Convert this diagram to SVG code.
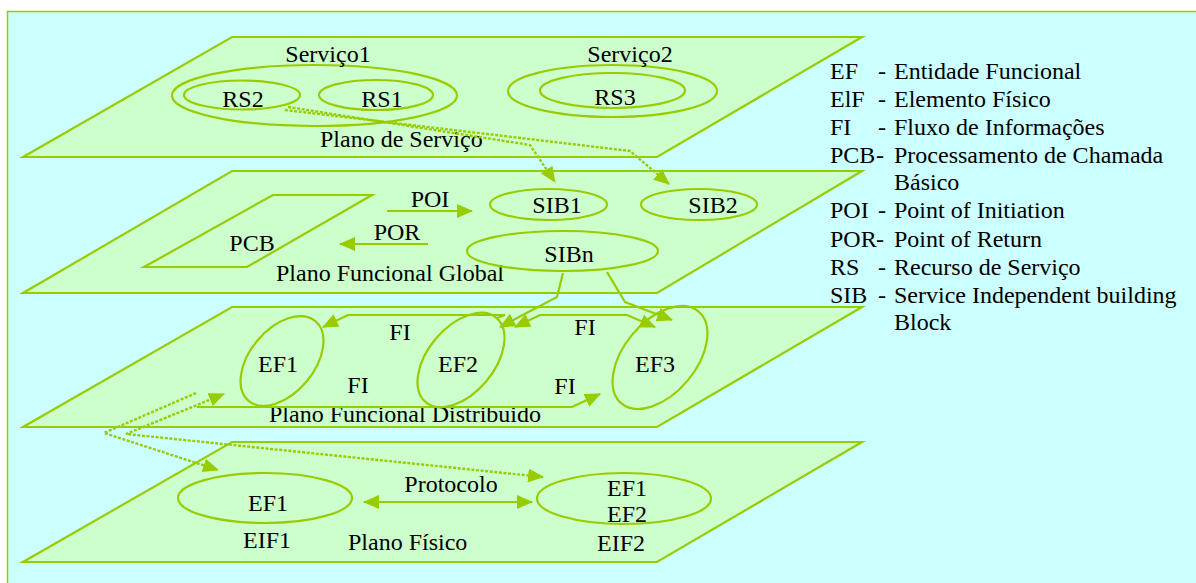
<svg xmlns="http://www.w3.org/2000/svg" width="1196" height="583" viewBox="0 0 1196 583">
<style>
text{font-family:"Liberation Serif","Times New Roman",serif;font-size:24px;fill:#000}
.m{text-anchor:middle}
.pl{fill:#CCFFCC;stroke:#99CC00;stroke-width:2.2}
.el{fill:none;stroke:#99CC00;stroke-width:2.2}
.c{fill:none;stroke:#99CC00;stroke-width:2.2}
.d{fill:none;stroke:#99CC00;stroke-width:2.4;stroke-dasharray:3 1.6}
</style>
<defs>
<marker id="ah" viewBox="0 0 16 14" refX="15" refY="7" markerWidth="16" markerHeight="14" markerUnits="userSpaceOnUse" orient="auto-start-reverse">
<path d="M0,0 L16,7 L0,14 z" fill="#99CC00"/>
</marker>
</defs>
<rect x="0" y="0" width="1196" height="583" fill="#FFFFFF"/>
<rect x="7.5" y="11.5" width="1200" height="600" fill="#CCFFFF" stroke="#99CC00" stroke-width="1.5"/>

<g id="plano-servico">
<polygon class="pl" points="232,37 862,37 657,157 23,157"/>
<text x="320" y="147">Plano de Serviço</text>
</g>
<g id="plano-funcional-global">
<polygon class="pl" points="232,171 862,171 657,293 23,293"/>
<text x="276" y="281">Plano Funcional Global</text>
</g>
<g id="plano-funcional-distribuido">
<polygon class="pl" points="232,307 862,307 657,427 23,427"/>
<text x="269" y="422">Plano Funcional Distribuido</text>
</g>
<g id="plano-fisico">
<polygon class="pl" points="232,442 862,442 657,562 23,562"/>
<text x="348" y="550">Plano Físico</text>
</g>

<g id="servico1">
<ellipse class="el" cx="314.5" cy="95.5" rx="142.5" ry="30.5"/>
<text class="m" x="328" y="62">Serviço1</text>
</g>
<g id="rs2">
<ellipse class="el" cx="242" cy="95" rx="58" ry="14.5"/>
<text class="m" x="243" y="107">RS2</text>
</g>
<g id="rs1">
<ellipse class="el" cx="376" cy="95" rx="57" ry="15"/>
<text class="m" x="382" y="107">RS1</text>
</g>
<g id="servico2">
<ellipse class="el" cx="612.5" cy="91" rx="104.5" ry="26"/>
<text class="m" x="630" y="62">Serviço2</text>
</g>
<g id="rs3">
<ellipse class="el" cx="612.5" cy="90.5" rx="72.5" ry="17.5"/>
<text class="m" x="615" y="105">RS3</text>
</g>

<g id="pcb">
<polygon class="el" points="273,195 372,195 247,267 144,267"/>
<text class="m" x="252" y="251">PCB</text>
</g>
<g id="sib1">
<ellipse class="el" cx="548.5" cy="204.5" rx="58.5" ry="15.5"/>
<text class="m" x="557" y="213">SIB1</text>
</g>
<g id="sib2">
<ellipse class="el" cx="699" cy="204.5" rx="58" ry="15.5"/>
<text class="m" x="713" y="213">SIB2</text>
</g>
<g id="sibn">
<ellipse class="el" cx="562.5" cy="251" rx="95.5" ry="20"/>
<text class="m" x="569" y="262">SIBn</text>
</g>

<g id="ef1-dist">
<ellipse class="el" cx="282" cy="361" rx="32" ry="52" transform="rotate(40 282 361)"/>
<text class="m" x="278" y="372">EF1</text>
</g>
<g id="ef2-dist">
<ellipse class="el" cx="461" cy="360" rx="33" ry="55" transform="rotate(40 461 360)"/>
<text class="m" x="458" y="372">EF2</text>
</g>
<g id="ef3-dist">
<ellipse class="el" cx="660" cy="357.5" rx="36" ry="60" transform="rotate(40 660 357.5)"/>
<text class="m" x="655" y="372">EF3</text>
</g>

<g id="eif1">
<ellipse class="el" cx="265" cy="498" rx="87" ry="25"/>
<text class="m" x="268" y="511">EF1</text>
<text class="m" x="267" y="548">EIF1</text>
</g>
<g id="eif2">
<ellipse class="el" cx="624" cy="498.5" rx="87" ry="25.5"/>
<text class="m" x="627" y="496">EF1</text>
<text class="m" x="627" y="522">EF2</text>
<text class="m" x="621" y="551">EIF2</text>
</g>

<g id="connectors">
<path class="d" d="M288,107 L530,145 L555,182" marker-end="url(#ah)"/>
<path class="d" d="M285,110 L630,151 L669,184" marker-end="url(#ah)"/>
<path class="c" d="M387,211 L472,211" marker-end="url(#ah)"/>
<path class="c" d="M428,244 L340,244" marker-end="url(#ah)"/>
<path class="c" d="M563,273 L557,297 L500,327" marker-end="url(#ah)"/>
<path class="c" d="M607,272 L625,302 L672,320" marker-end="url(#ah)"/>
<path class="c" d="M497,318 L505,315 L348,315 L323,327" marker-end="url(#ah)"/>
<path class="c" d="M515,327 L540,315 L627,315 L655,327" marker-start="url(#ah)" marker-end="url(#ah)"/>
<path class="c" d="M197,407 L572,407 L600,394" marker-end="url(#ah)"/>
<path class="d" d="M196,393 L104,433 L218,470" marker-end="url(#ah)"/>
<path class="d" d="M543,477 L126,434 L224,394" marker-start="url(#ah)" marker-end="url(#ah)"/>
<path class="c" d="M364,502 L532,502" marker-start="url(#ah)" marker-end="url(#ah)"/>
<text class="m" x="430" y="207">POI</text>
<text class="m" x="397" y="240">POR</text>
<text class="m" x="400" y="340">FI</text>
<text class="m" x="585" y="335">FI</text>
<text class="m" x="358" y="393">FI</text>
<text class="m" x="565" y="394">FI</text>
<text class="m" x="451" y="492">Protocolo</text>
</g>

<g id="legend">
<text x="830" y="79">EF</text><text x="878" y="79">-</text><text x="894" y="79">Entidade Funcional</text>
<text x="830" y="107">ElF</text><text x="878" y="107">-</text><text x="894" y="107">Elemento Físico</text>
<text x="830" y="135">FI</text><text x="878" y="135">-</text><text x="894" y="135">Fluxo de Informações</text>
<text x="830" y="163">PCB</text><text x="876" y="163">-</text><text x="894" y="163">Processamento de Chamada</text>
<text x="894" y="190">Básico</text>
<text x="830" y="218">POI</text><text x="878" y="218">-</text><text x="894" y="218">Point of Initiation</text>
<text x="830" y="247">POR</text><text x="876" y="247">-</text><text x="894" y="247">Point of Return</text>
<text x="830" y="275">RS</text><text x="878" y="275">-</text><text x="894" y="275">Recurso de Serviço</text>
<text x="830" y="303">SIB</text><text x="878" y="303">-</text><text x="894" y="303">Service Independent building</text>
<text x="894" y="330">Block</text>
</g>
</svg>
